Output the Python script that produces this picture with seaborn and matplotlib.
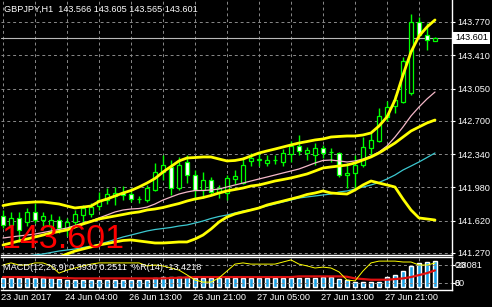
import matplotlib
matplotlib.use("Agg")
import matplotlib.pyplot as plt
import numpy as np
import pandas as pd
import seaborn as sns
from matplotlib.transforms import blended_transform_factory

# ---------------- data ----------------
opens = [141.670, 141.573, 141.649, 141.605, 141.714, 141.627, 141.562, 141.627, 141.540, 141.605,
         141.681, 141.692, 141.778, 141.843, 141.887, 141.919, 141.908, 141.854, 141.843, 141.952,
         142.146, 142.201, 141.973, 142.255, 142.114, 141.952, 142.060, 141.930, 141.919, 142.071,
         142.027, 142.266, 142.276, 142.244, 142.276, 142.255, 142.341, 142.428, 142.352, 142.330,
         142.406, 142.363, 142.352, 142.114, 142.136, 142.222, 142.406, 142.482, 142.742, 142.861,
         142.904, 143.001, 143.770, 143.629, 143.566]
highs = [141.735, 141.714, 141.714, 141.757, 141.811, 141.714, 141.692, 141.670, 141.649, 141.735,
         141.789, 141.811, 141.930, 141.973, 141.984, 141.995, 141.973, 141.887, 142.006, 142.244,
         142.330, 142.276, 142.309, 142.330, 142.168, 142.146, 142.092, 142.006, 142.114, 142.168,
         142.309, 142.352, 142.352, 142.330, 142.330, 142.395, 142.482, 142.547, 142.417, 142.460,
         142.439, 142.406, 142.363, 142.244, 142.330, 142.525, 142.569, 142.839, 142.915, 142.980,
         143.391, 143.857, 143.824, 143.759, 143.605]
lows = [141.540, 141.486, 141.389, 141.562, 141.594, 141.562, 141.497, 141.486, 141.454, 141.562,
        141.594, 141.659, 141.735, 141.800, 141.789, 141.843, 141.822, 141.811, 141.822, 141.941,
        142.060, 141.898, 141.952, 142.027, 141.843, 141.865, 141.908, 141.865, 141.843, 142.017,
        142.017, 142.211, 142.211, 142.211, 142.233, 142.211, 142.255, 142.330, 142.276, 142.222,
        142.298, 142.255, 142.092, 141.973, 141.952, 142.201, 142.309, 142.471, 142.698, 142.785,
        142.893, 142.980, 143.608, 143.467, 143.565]
closes = [141.573, 141.649, 141.519, 141.714, 141.627, 141.670, 141.627, 141.540, 141.605, 141.692,
          141.757, 141.767, 141.843, 141.908, 141.919, 141.898, 141.854, 141.856, 141.973, 142.146,
          142.222, 141.973, 142.222, 142.114, 141.952, 142.060, 141.930, 141.973, 142.082, 142.103,
          142.222, 142.298, 142.287, 142.276, 142.278, 142.352, 142.428, 142.374, 142.385, 142.406,
          142.352, 142.365, 142.114, 142.136, 142.222, 142.417, 142.493, 142.753, 142.850, 142.926,
          143.348, 143.770, 143.629, 143.575, 143.601]

bb_upper = [141.783, 141.800, 141.811, 141.816, 141.822, 141.822, 141.811, 141.800, 141.778, 141.757,
            141.767, 141.778, 141.827, 141.854, 141.887, 141.919, 141.946, 141.984, 142.027, 142.076,
            142.146, 142.206, 142.266, 142.298, 142.303, 142.309, 142.309, 142.287, 142.266, 142.271,
            142.287, 142.320, 142.352, 142.374, 142.395, 142.417, 142.439, 142.460, 142.476, 142.493,
            142.504, 142.525, 142.531, 142.536, 142.536, 142.547, 142.569, 142.644, 142.742, 142.926,
            143.196, 143.445, 143.618, 143.716, 143.792]
bb_middle = [141.356, 141.378, 141.400, 141.421, 141.443, 141.464, 141.486, 141.502, 141.519, 141.551,
             141.584, 141.611, 141.638, 141.654, 141.670, 141.686, 141.703, 141.714, 141.735, 141.746,
             141.762, 141.784, 141.805, 141.832, 141.854, 141.870, 141.892, 141.919, 141.941, 141.957,
             141.973, 141.995, 142.006, 142.027, 142.049, 142.065, 142.082, 142.103, 142.125, 142.157,
             142.190, 142.201, 142.211, 142.222, 142.244, 142.276, 142.309, 142.352, 142.406, 142.460,
             142.525, 142.590, 142.634, 142.677, 142.709]
bb_lower = [141.031, 141.064, 141.097, 141.129, 141.151, 141.172, 141.199, 141.226, 141.259, 141.291,
            141.313, 141.335, 141.356, 141.372, 141.389, 141.405, 141.411, 141.400, 141.389, 141.378,
            141.378, 141.383, 141.389, 141.389, 141.421, 141.464, 141.529, 141.605, 141.659, 141.692,
            141.714, 141.735, 141.757, 141.789, 141.811, 141.832, 141.854, 141.876, 141.903, 141.919,
            141.941, 141.919, 141.913, 141.908, 141.952, 142.006, 142.049, 142.027, 142.006, 141.984,
            141.854, 141.735, 141.649, 141.638, 141.627]
ma_pink = [141.432, 141.443, 141.454, 141.464, 141.475, 141.491, 141.508, 141.524, 141.540, 141.567,
           141.594, 141.616, 141.649, 141.681, 141.714, 141.735, 141.746, 141.751, 141.767, 141.800,
           141.843, 141.876, 141.908, 141.930, 141.946, 141.946, 141.952, 141.962, 141.984, 142.006,
           142.027, 142.049, 142.071, 142.092, 142.114, 142.136, 142.157, 142.179, 142.211, 142.244,
           142.271, 142.276, 142.266, 142.255, 142.266, 142.287, 142.320, 142.363, 142.428, 142.525,
           142.634, 142.753, 142.850, 142.937, 143.012]
ma_cyan = [141.215, 141.221, 141.226, 141.237, 141.248, 141.259, 141.275, 141.291, 141.302, 141.313,
           141.329, 141.345, 141.361, 141.389, 141.416, 141.443, 141.464, 141.486, 141.508, 141.524,
           141.535, 141.546, 141.562, 141.573, 141.594, 141.616, 141.643, 141.665, 141.681, 141.703,
           141.724, 141.740, 141.757, 141.778, 141.800, 141.822, 141.843, 141.865, 141.876, 141.887,
           141.898, 141.908, 141.930, 141.941, 141.962, 141.984, 142.006, 142.033, 142.071, 142.114,
           142.168, 142.211, 142.255, 142.303, 142.352]

macd_hist = [0.14, 0.14, 0.13, 0.13, 0.14, 0.14, 0.13, 0.12, 0.11, 0.10,
             0.10, 0.10, 0.11, 0.11, 0.11, 0.11, 0.10, 0.10, 0.11, 0.13,
             0.15, 0.15, 0.15, 0.15, 0.14, 0.14, 0.13, 0.13, 0.13, 0.13,
             0.14, 0.14, 0.14, 0.14, 0.14, 0.14, 0.14, 0.14, 0.14, 0.14,
             0.15, 0.15, 0.12, 0.11, 0.08, 0.07, 0.07, 0.08, 0.15, 0.18,
             0.24, 0.32, 0.36, 0.38, 0.393]
macd_signal = [0.15, 0.15, 0.15, 0.15, 0.15, 0.145, 0.14, 0.14, 0.135, 0.13,
               0.13, 0.13, 0.13, 0.13, 0.13, 0.13, 0.13, 0.13, 0.13, 0.13,
               0.13, 0.135, 0.14, 0.145, 0.15, 0.15, 0.15, 0.15, 0.15, 0.15,
               0.15, 0.15, 0.15, 0.15, 0.15, 0.15, 0.15, 0.16, 0.16, 0.16,
               0.16, 0.16, 0.16, 0.155, 0.13, 0.12, 0.11, 0.11, 0.11, 0.12,
               0.13, 0.15, 0.18, 0.21, 0.251]
wpr = [-20, -13, -20, -20, -13, -13, -23, -47, -37, -30,
       -23, -17, -13, -13, -13, -13, -13, -13, -23, -20,
       -23, -30, -37, -53, -70, -77, -77, -63, -40, -17,
       -13, -17, -17, -17, -17, -10, -3, -17, -23, -30,
       -27, -30, -43, -70, -73, -40, -13, -7, -7, -7,
       -10, -10, -20, -20, -13.42]

price_ticks = [143.770, 143.410, 143.050, 142.700, 142.340, 141.980, 141.620, 141.270]
time_label_bars = [0, 8, 16, 24, 32, 40, 48]
time_labels = ["23 Jun 2017", "24 Jun 04:00", "26 Jun 13:00", "26 Jun 21:00",
               "27 Jun 05:00", "27 Jun 13:00", "27 Jun 21:00"]
title_text = "GBPJPY,H1  143.566 143.605 143.565 143.601"
last_price = 143.601
indicator_text = "MACD(12,26,9) 0.3930 0.2511  %R(14) -13.4218"

# ---------------- style ----------------
sns.set_theme(style="dark", rc={
    "axes.facecolor": "black", "figure.facecolor": "black",
    "axes.edgecolor": "white", "text.color": "white",
    "xtick.color": "white", "ytick.color": "white", "axes.grid": False})
plt.rcParams['font.family'] = ['Liberation Sans', 'DejaVu Sans']

LIME = "#00FF00"
YEL = "#FFFF00"
GRID = "#8a8a8a"
FS = 6.6

df = pd.DataFrame({"bar": np.arange(len(closes)), "open": opens, "high": highs,
                   "low": lows, "close": closes, "up": bb_upper, "mid": bb_middle,
                   "lo": bb_lower, "pink": ma_pink, "cyan": ma_cyan,
                   "macd": macd_hist, "sig": macd_signal, "wpr": wpr})

W, H = 492, 307
fig = plt.figure(figsize=(W / 100, H / 100), dpi=100)
fig.patch.set_facecolor("black")
ax = fig.add_axes([1 / W, 52 / H, 451 / W, 255 / H])
ax2 = fig.add_axes([1 / W, 17 / H, 451 / W, 33 / H])
ax3 = ax2.twinx()

XL = (-0.25, -0.25 + 451 / 8)

# grid
dash = (0, (3, 3))
for v in range(0, 56, 4):
    ax.axvline(v, color=GRID, lw=0.7, ls=dash, zorder=0.5)
    ax2.axvline(v, color=GRID, lw=0.7, ls=dash, zorder=0.5)
for t in price_ticks:
    ax.axhline(t, color=GRID, lw=0.7, ls=dash, zorder=0.5)
for lv in (-20, -80):
    ax3.axhline(lv, color=GRID, lw=0.7, ls=dash, zorder=0.5)

ax.axhline(last_price, color="#B8B8B8", lw=0.8, zorder=1)

# candles
ax.vlines(df["bar"], df["low"], df["high"], color=LIME, lw=1.0, zorder=2)
bottoms = np.minimum(df["open"], df["close"])
heights = np.maximum(np.abs(df["close"] - df["open"]), 0.004)
faces = ["black" if c >= o else "white" for o, c in zip(df["open"], df["close"])]
ax.bar(df["bar"], heights, bottom=bottoms, width=0.62, color=faces,
       edgecolor=LIME, linewidth=0.9, zorder=3)

# indicator lines
sns.lineplot(data=df, x="bar", y="cyan", ax=ax, color="#3CC8D0", lw=0.9, zorder=4)
sns.lineplot(data=df, x="bar", y="pink", ax=ax, color="#F4B8C8", lw=0.9, zorder=4)
for col in ("up", "mid", "lo"):
    sns.lineplot(data=df, x="bar", y=col, ax=ax, color=YEL, lw=2.0, zorder=5)

ax.set_xlim(*XL)
ax.set_ylim(141.248, 144.008)
ax.set_xlabel("")
ax.set_ylabel("")
ax.set_xticks([])
ax.set_yticks(price_ticks)
ax.set_yticklabels([f"{t:.3f}" for t in price_ticks])
ax.tick_params(axis="y", left=False, right=True, labelleft=False, labelright=True,
               length=2.2, width=0.8, colors="white", labelsize=FS, pad=1.5)
for s in ("top", "left"):
    ax.spines[s].set_visible(False)
for s in ("right", "bottom"):
    ax.spines[s].set_color("white")
    ax.spines[s].set_linewidth(1.0)

# MACD / %R panel
ax2.bar(df["bar"], df["macd"], width=0.62, color="#1AA3E8", zorder=2)
sns.lineplot(data=df, x="bar", y="sig", ax=ax2, color="#E01010", lw=1.6, zorder=3)
sns.lineplot(data=df, x="bar", y="wpr", ax=ax3, color=YEL, lw=0.7, zorder=4)
ax2.set_xlim(*XL)
ax2.set_ylim(-0.045, 0.453)
ax3.set_ylim(-103.3, 6.7)
for a in (ax2, ax3):
    a.set_xlabel("")
    a.set_ylabel("")
ax2.set_yticks([])
ax2.set_xticks(time_label_bars)
ax2.set_xticklabels([])
ax2.tick_params(axis="x", length=2, width=0.8, colors="white")
ax3.set_yticks([-20, -80])
ax3.set_yticklabels([])
ax3.tick_params(axis="y", right=True, length=2.2, width=0.8, colors="white")
ax2.spines["left"].set_visible(False)
for s in ("top", "right", "bottom"):
    ax2.spines[s].set_color("white")
    ax2.spines[s].set_linewidth(1.0)
for s in ax3.spines.values():
    s.set_visible(False)

# texts
fig.text(4 / W, 1 - 9 / H, title_text, color="white", fontsize=FS, va="center", ha="left")
fig.text(455 / W, 1 - 37.7 / H, f"{last_price:.3f}", color="black", fontsize=FS,
         va="center", ha="left",
         bbox=dict(boxstyle="square,pad=0.18", fc="white", ec="none"))
fig.text(1.5 / W, 1 - 248 / H, f"{last_price:.3f}", color="#FF0000", fontsize=24.5,
         va="baseline", ha="left")
fig.text(3 / W, 1 - 267 / H, indicator_text, color="white", fontsize=FS, va="center", ha="left")
fig.text(455 / W, 1 - 265 / H, "0.8081", color="white", fontsize=FS, va="center", ha="left")
fig.text(455 / W, 1 - 265 / H, "20", color="white", fontsize=FS, va="center", ha="left")
fig.text(455 / W, 1 - 283 / H, "80", color="white", fontsize=FS, va="center", ha="left")
fig.text(455 / W, 1 - 283 / H, "0", color="white", fontsize=FS, va="center", ha="left")

tr = blended_transform_factory(ax2.transData, fig.transFigure)
for b, lab in zip(time_label_bars, time_labels):
    ax2.text(b - 0.25, 1 - 298 / H, lab, transform=tr, color="white", fontsize=FS,
             va="center", ha="left", clip_on=False)

fig.savefig("out.png", dpi=100, facecolor="black")
